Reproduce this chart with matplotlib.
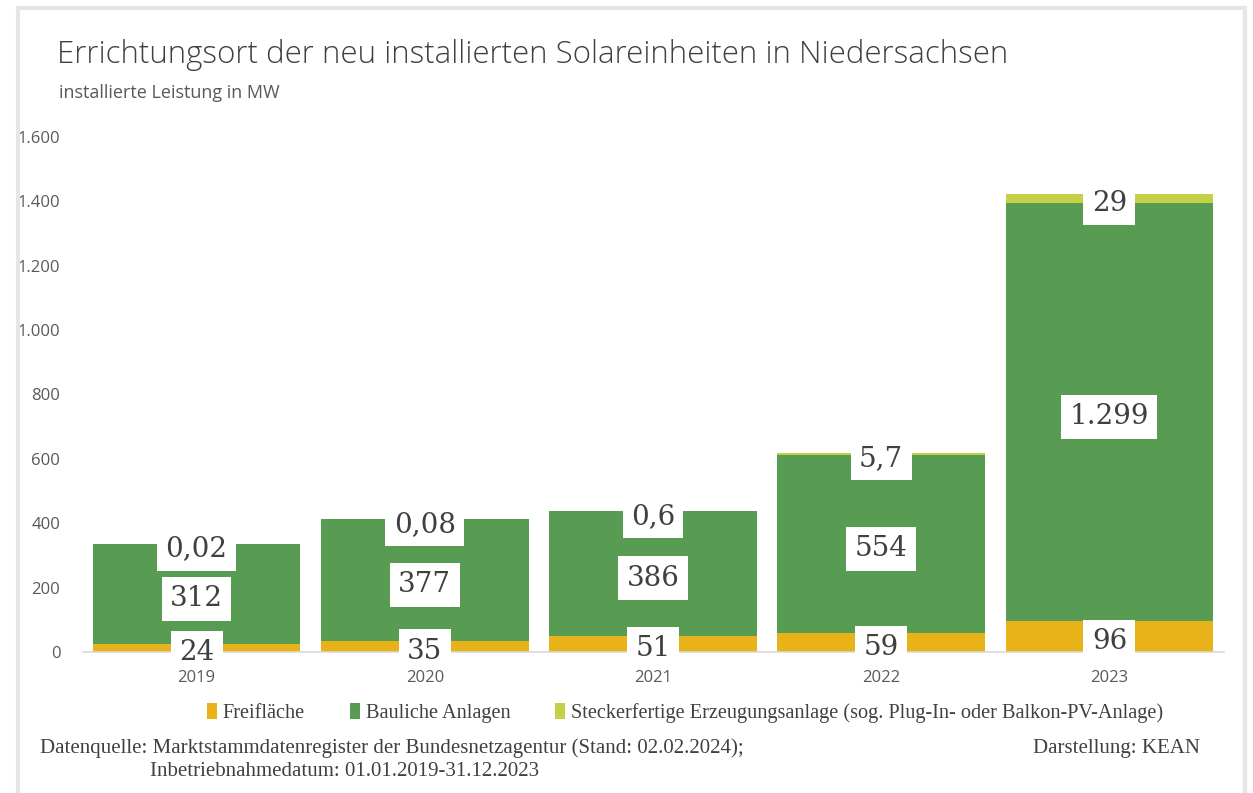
import matplotlib
matplotlib.use("Agg")
import matplotlib.pyplot as plt
from matplotlib.patches import Rectangle, Patch
from matplotlib.ticker import FuncFormatter

years = ["2019", "2020", "2021", "2022", "2023"]
freiflaeche = [24, 35, 51, 59, 96]
bauliche = [312, 377, 386, 554, 1299]
stecker = [0.02, 0.08, 0.6, 5.7, 29]
lab_frei = ["24", "35", "51", "59", "96"]
lab_bau = ["312", "377", "386", "554", "1.299"]
lab_st = ["0,02", "0,08", "0,6", "5,7", "29"]
series_names = ["Freifläche", "Bauliche Anlagen",
                "Steckerfertige Erzeugungsanlage (sog. Plug-In- oder Balkon-PV-Anlage)"]
colors = ["#E8B319", "#579C52", "#C4D045"]

W, H = 1253, 793
fig = plt.figure(figsize=(W / 100, H / 100), dpi=100)

# light gray frame
fig.patches.append(Rectangle((17.5 / W, -0.1), (1244.5 - 17.5) / W, (H - 7.5) / H + 0.1,
                             transform=fig.transFigure, fill=False,
                             edgecolor="#E6E6E6", linewidth=3))

def fx(px):
    return px / W

def fy(py):
    return 1 - py / H

ax = fig.add_axes([fx(82.5), fy(652), fx(1223.5) - fx(82.5), fy(137) - fy(652)])
x = list(range(len(years)))
w = 0.91
ax.bar(x, freiflaeche, width=w, color=colors[0], label=series_names[0])
ax.bar(x, bauliche, width=w, bottom=freiflaeche, color=colors[1], label=series_names[1])
bot3 = [a + b for a, b in zip(freiflaeche, bauliche)]
ax.bar(x, stecker, width=w, bottom=bot3, color=colors[2], label=series_names[2])

ax.set_xlim(-0.5, len(years) - 0.5)
ax.set_ylim(0, 1600)
ax.set_yticks(range(0, 1601, 200))
ax.yaxis.set_major_formatter(FuncFormatter(lambda v, p: f"{int(v):,}".replace(",", ".")))
ax.set_xticks(x)
ax.set_xticklabels(years)
for s in ["top", "right", "left"]:
    ax.spines[s].set_visible(False)
ax.spines["bottom"].set_color("#D9D9D9")
ax.spines["bottom"].set_linewidth(1.2)
ax.tick_params(axis="both", length=0, labelsize=12, labelcolor="#595959")
ax.tick_params(axis="y", pad=16)
ax.tick_params(axis="x", pad=13)
for t in ax.get_xticklabels() + ax.get_yticklabels():
    t.set_fontfamily("Open Sans")
ax.xaxis.set_zorder(6)

lab_kw = dict(ha="center", va="center", fontsize=20, color="#404040",
              family="DejaVu Serif", textcoords="offset points", xytext=(0, -3.5),
              zorder=4,
              bbox=dict(boxstyle="square,pad=0.3", facecolor="white", edgecolor="none"))
for i in x:
    ax.annotate(lab_frei[i], (i, freiflaeche[i] / 2), **lab_kw)
    ax.annotate(lab_bau[i], (i, freiflaeche[i] + bauliche[i] / 2), **lab_kw)
    ax.annotate(lab_st[i], (i, bot3[i] + stecker[i] / 2), **lab_kw)

fig.text(fx(57), fy(55), "Errichtungsort der neu installierten Solareinheiten in Niedersachsen",
         fontsize=22.5, family="Open Sans", fontweight="light", color="#404040", va="center")
fig.text(fx(59), fy(93), "installierte Leistung in MW",
         fontsize=13, family="Open Sans", color="#595959", va="center")

handles = [Patch(facecolor=c, edgecolor="none") for c in colors]
fig.legend(handles, series_names, loc="center", bbox_to_anchor=(fx(685), fy(713)),
           ncol=3, frameon=False, handlelength=0.5, handleheight=0.8, handletextpad=0.3,
           columnspacing=2.2, prop={"family": "Liberation Serif", "size": 14.6},
           labelcolor="#404040")

foot_kw = dict(fontsize=15, family="Liberation Serif", color="#404040", va="center")
fig.text(fx(40), fy(748), "Datenquelle: Marktstammdatenregister der Bundesnetzagentur (Stand: 02.02.2024);", **foot_kw)
fig.text(fx(150), fy(772), "Inbetriebnahmedatum: 01.01.2019-31.12.2023", **foot_kw)
fig.text(fx(1200), fy(748), "Darstellung: KEAN", ha="right", **foot_kw)

fig.savefig("out.png", dpi=100, facecolor="white")
